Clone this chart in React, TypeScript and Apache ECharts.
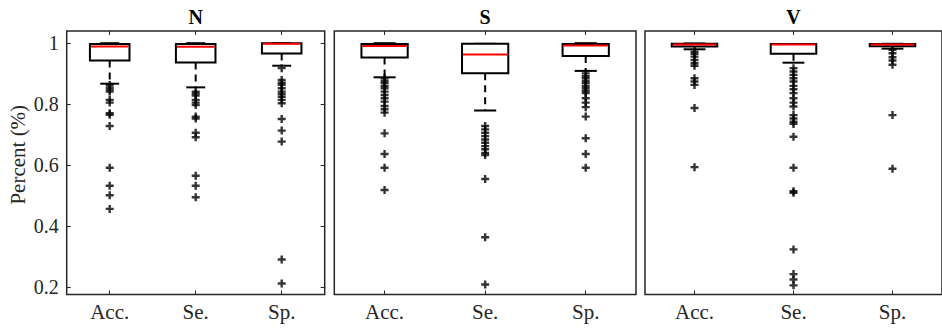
import React, { useEffect, useRef } from "react";
import * as echarts from "echarts";

const categories = ["Acc.", "Se.", "Sp."];
const panelTitles = ["N", "S", "V"];
const yTicks = [0.2, 0.4, 0.6, 0.8, 1];

// box stats: [lowerWhisker, Q1, median, Q3, upperWhisker]
const boxN = [
  [0.867, 0.943, 0.989, 0.997, 1.0],
  [0.855, 0.937, 0.988, 0.997, 1.0],
  [0.926, 0.966, 0.998, 1.0, 1.0],
];
const boxS = [
  [0.888, 0.953, 0.991, 0.997, 1.0],
  [0.779, 0.901, 0.963, 0.998, 0.998],
  [0.909, 0.958, 0.992, 0.997, 1.0],
];
const boxV = [
  [0.98, 0.989, 0.996, 0.998, 0.999],
  [0.936, 0.965, 0.996, 0.997, 0.997],
  [0.982, 0.99, 0.996, 0.997, 0.998],
];

const outN_Acc = [0.863, 0.855, 0.848, 0.841, 0.814, 0.805, 0.77, 0.765, 0.728, 0.591, 0.532, 0.501, 0.456];
const outN_Se = [0.841, 0.835, 0.828, 0.814, 0.805, 0.797, 0.759, 0.753, 0.706, 0.691, 0.565, 0.532, 0.494];
const outN_Sp = [0.918, 0.879, 0.87, 0.863, 0.852, 0.841, 0.833, 0.824, 0.814, 0.803, 0.751, 0.713, 0.677, 0.29, 0.211];

const outS_Acc = [0.885, 0.876, 0.869, 0.86, 0.852, 0.841, 0.83, 0.819, 0.808, 0.794, 0.783, 0.772, 0.704, 0.636, 0.591, 0.518];
const outS_Se = [0.728, 0.717, 0.706, 0.695, 0.684, 0.673, 0.662, 0.652, 0.64, 0.633, 0.554, 0.363, 0.208];
const outS_Sp = [0.901, 0.892, 0.885, 0.876, 0.869, 0.86, 0.852, 0.844, 0.836, 0.819, 0.805, 0.79, 0.759, 0.688, 0.636, 0.591];

const outV_Acc = [0.972, 0.965, 0.956, 0.945, 0.934, 0.926, 0.885, 0.874, 0.863, 0.787, 0.593];
const outV_Se = [0.918, 0.907, 0.896, 0.885, 0.874, 0.86, 0.849, 0.836, 0.819, 0.805, 0.792, 0.764, 0.753, 0.742, 0.735, 0.693, 0.591, 0.514, 0.509, 0.323, 0.242, 0.224, 0.205];
const outV_Sp = [0.978, 0.967, 0.954, 0.943, 0.929, 0.764, 0.588];

const boxes = [boxN, boxS, boxV];
const outliers = [
  [outN_Acc, outN_Se, outN_Sp],
  [outS_Acc, outS_Se, outS_Sp],
  [outV_Acc, outV_Se, outV_Sp],
];

const FONT = '"Liberation Serif", "Times New Roman", serif';
const FRAME = "#262626";
const PLUS = "path://M2.1,0H3.9V2.1H6V3.9H3.9V6H2.1V3.9H0V2.1H2.1Z";

const gridsPx = [
  { left: 66.7, width: 258 },
  { left: 334.3, width: 301.7 },
  { left: 645, width: 299 },
];
const TOP = 31;
const HEIGHT = 263.5;
const YMIN = 0.175;
const YMAX = 1.04;

export default function App() {
  const ref = useRef<HTMLDivElement>(null);
  useEffect(() => {
    if (!ref.current) return;
    const chart = echarts.init(ref.current, undefined, { renderer: "svg" });

    const grid: any[] = [];
    const xAxis: any[] = [];
    const yAxis: any[] = [];
    const series: any[] = [];
    const graphic: any[] = [];

    gridsPx.forEach((g, i) => {
      grid.push({
        left: g.left,
        top: TOP,
        width: g.width,
        height: HEIGHT,
        show: true,
        borderColor: FRAME,
        borderWidth: 1.5,
        backgroundColor: "transparent",
      });
      xAxis.push({
        type: "category",
        gridIndex: i,
        data: categories,
        position: "bottom",
        axisLine: { show: false },
        axisTick: { show: true, inside: true, alignWithLabel: true, length: 4, lineStyle: { color: FRAME } },
        axisLabel: { show: true, fontFamily: FONT, fontSize: 21, color: "#262626", margin: 7 },
        splitLine: { show: false },
      });
      xAxis.push({
        type: "category",
        gridIndex: i,
        data: categories,
        position: "top",
        axisLine: { show: false },
        axisTick: { show: true, inside: true, alignWithLabel: true, length: 4, lineStyle: { color: FRAME } },
        axisLabel: { show: false },
        splitLine: { show: false },
      });
      yAxis.push({
        type: "value",
        gridIndex: i,
        min: YMIN,
        max: YMAX,
        position: "left",
        axisLine: { show: false },
        splitLine: { show: false },
        axisTick: i === 0
          ? { show: true, inside: true, length: 4, customValues: yTicks, lineStyle: { color: FRAME } }
          : { show: false },
        axisLabel: i === 0
          ? {
              show: true,
              customValues: yTicks,
              fontFamily: FONT,
              fontSize: 20,
              color: "#262626",
              margin: 8,
              formatter: (v: number) => String(Math.round(v * 10) / 10),
            }
          : { show: false },
        name: i === 0 ? "Percent (%)" : "",
        nameLocation: "middle",
        nameGap: 38,
        nameTextStyle: { fontFamily: FONT, fontSize: 21, color: "#262626", padding: [0, 0, 0, 16] },
      });
      yAxis.push({
        type: "value",
        gridIndex: i,
        min: YMIN,
        max: YMAX,
        position: "right",
        axisLine: { show: false },
        splitLine: { show: false },
        axisTick: i === 0
          ? { show: true, inside: true, length: 4, customValues: yTicks, lineStyle: { color: FRAME } }
          : { show: false },
        axisLabel: { show: false },
      });

      series.push({
        type: "custom",
        xAxisIndex: i * 2,
        yAxisIndex: i * 2,
        data: boxes[i].map((b, k) => [k, ...b]),
        encode: { x: 0, y: [1, 2, 3, 4, 5] },
        z: 3,
        renderItem: (params: any, api: any) => {
          const x = api.value(0);
          const low = api.coord([x, api.value(1)]);
          const q1 = api.coord([x, api.value(2)]);
          const med = api.coord([x, api.value(3)]);
          const q3 = api.coord([x, api.value(4)]);
          const high = api.coord([x, api.value(5)]);
          const band = api.size([1, 0])[0];
          const bw = band * 0.46;
          const cw = band * 0.22;
          const cx = q1[0];
          const stroke = { stroke: "#000", lineWidth: 2 };
          return {
            type: "group",
            children: [
              {
                type: "line",
                shape: { x1: cx, y1: q1[1], x2: cx, y2: low[1] },
                style: { stroke: "#000", lineWidth: 2, lineDash: [7, 5] },
              },
              {
                type: "line",
                shape: { x1: cx, y1: q3[1], x2: cx, y2: high[1] },
                style: { stroke: "#000", lineWidth: 2, lineDash: [7, 5] },
              },
              {
                type: "line",
                shape: { x1: cx - cw / 2, y1: low[1], x2: cx + cw / 2, y2: low[1] },
                style: stroke,
              },
              {
                type: "line",
                shape: { x1: cx - cw / 2, y1: high[1], x2: cx + cw / 2, y2: high[1] },
                style: stroke,
              },
              {
                type: "rect",
                shape: { x: cx - bw / 2, y: q3[1], width: bw, height: q1[1] - q3[1] },
                style: { fill: "#fff", stroke: "#000", lineWidth: 2 },
              },
              {
                type: "line",
                shape: { x1: cx - bw / 2 + 1, y1: med[1], x2: cx + bw / 2 - 1, y2: med[1] },
                style: { stroke: "#ff0000", lineWidth: 2 },
              },
            ],
          };
        },
      });

      const pts: number[][] = [];
      outliers[i].forEach((arr, k) => arr.forEach((v) => pts.push([k, v])));
      series.push({
        type: "scatter",
        xAxisIndex: i * 2,
        yAxisIndex: i * 2,
        data: pts,
        symbol: PLUS,
        symbolSize: 8,
        itemStyle: { color: "#000" },
        z: 4,
      });

      graphic.push({
        type: "text",
        x: g.left + g.width / 2 - (i === 2 ? 1 : 0),
        y: 17,
        style: {
          text: panelTitles[i],
          align: "center",
          verticalAlign: "middle",
          fontFamily: FONT,
          fontWeight: "bold",
          fontSize: 20,
          fill: "#000",
        },
      });
    });

    chart.setOption({
      animation: false,
      backgroundColor: "#fff",
      grid,
      xAxis,
      yAxis,
      series,
      graphic,
    });
    return () => chart.dispose();
  }, []);

  return (
    <div
      ref={ref}
      style={{ position: "absolute", left: 0, top: 0, width: 942, height: 330 }}
    />
  );
}
